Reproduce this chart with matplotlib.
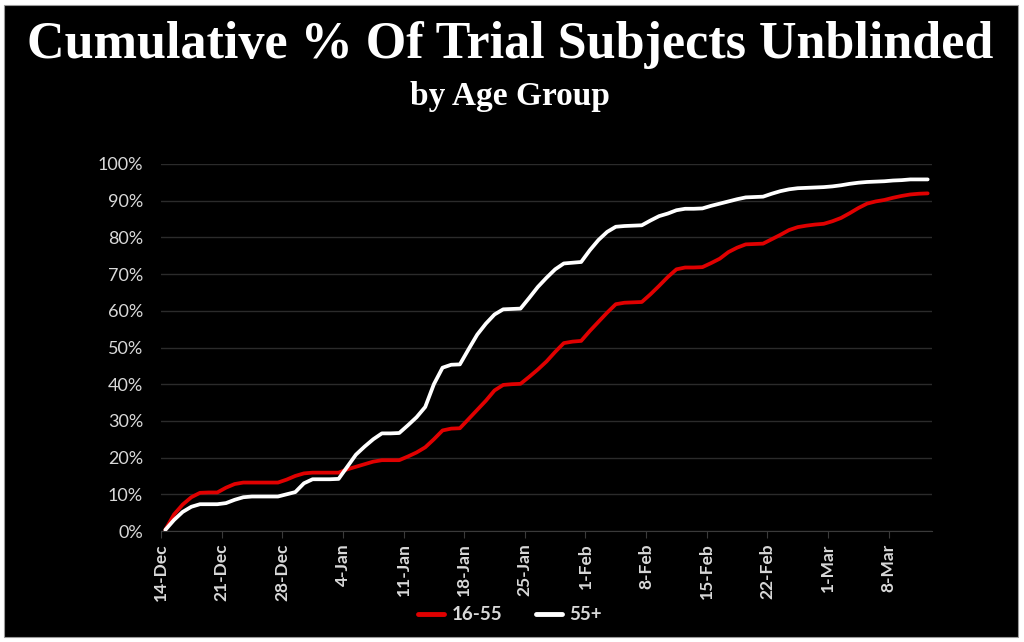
import matplotlib
matplotlib.use("Agg")
import matplotlib.pyplot as plt
import numpy as np
from matplotlib.patches import Rectangle
from matplotlib.ticker import PercentFormatter

# ---- data ----
tick_labels = ["14-Dec", "21-Dec", "28-Dec", "4-Jan", "11-Jan", "18-Jan", "25-Jan",
               "1-Feb", "8-Feb", "15-Feb", "22-Feb", "1-Mar", "8-Mar"]
series_names = ["16-55", "55+"]

# daily cumulative % from 14-Dec to 12-Mar (89 days)
age_16_55 = [0.3, 4.5, 7.2, 9.2, 10.4, 10.5, 10.5,
             11.8, 12.8, 13.2, 13.2, 13.2, 13.2, 13.2,
             14.0, 15.0, 15.7, 15.9, 15.9, 15.9, 15.9,
             16.8, 17.5, 18.2, 18.9, 19.3, 19.3, 19.3,
             20.3, 21.4, 22.8, 25.0, 27.4, 27.9, 28.0,
             30.5, 33.0, 35.5, 38.3, 39.8, 40.0, 40.1,
             42.0, 44.0, 46.2, 48.8, 51.2, 51.6, 51.8,
             54.5, 57.0, 59.5, 61.8, 62.2, 62.3, 62.4,
             64.5, 66.8, 69.2, 71.3, 71.8, 71.8, 71.9,
             73.0, 74.2, 76.0, 77.2, 78.1, 78.2, 78.3,
             79.5, 80.7, 82.0, 82.8, 83.2, 83.5, 83.7,
             84.4, 85.3, 86.6, 88.0, 89.2, 89.8, 90.2,
             90.8, 91.3, 91.7, 91.9, 92.0]

age_55_plus = [0.3, 3.0, 5.2, 6.6, 7.3, 7.3, 7.3,
               7.6, 8.5, 9.2, 9.4, 9.4, 9.4, 9.4,
               10.0, 10.6, 13.0, 14.1, 14.1, 14.1, 14.2,
               17.5, 20.8, 23.0, 25.0, 26.6, 26.6, 26.7,
               28.8, 31.0, 33.8, 40.0, 44.5, 45.3, 45.4,
               49.5, 53.5, 56.5, 59.0, 60.4, 60.5, 60.6,
               63.5, 66.5, 69.0, 71.3, 72.9, 73.1, 73.3,
               76.5, 79.3, 81.5, 82.9, 83.1, 83.2, 83.3,
               84.6, 85.8, 86.5, 87.4, 87.8, 87.8, 87.9,
               88.6, 89.2, 89.8, 90.4, 90.9, 91.0, 91.1,
               91.9, 92.6, 93.1, 93.4, 93.5, 93.6, 93.7,
               93.9, 94.2, 94.6, 94.9, 95.1, 95.2, 95.3,
               95.5, 95.6, 95.8, 95.8, 95.8]

y_ticks = [0, 10, 20, 30, 40, 50, 60, 70, 80, 90, 100]

# ---- figure ----
fig = plt.figure(figsize=(10.24, 6.42), dpi=100, facecolor="white")
fig.patches.append(Rectangle((4 / 1024, 1 - 637 / 642), (1018 - 4) / 1024, (637 - 5) / 642,
                             transform=fig.transFigure, facecolor="black",
                             edgecolor="#9a9a9a", linewidth=0.8, zorder=-10))

ax = fig.add_axes([161 / 1024, 1 - 531 / 642, (932 - 161) / 1024, (531 - 164) / 642])
ax.set_facecolor("black")
ax.set_zorder(1)

x = np.arange(len(age_16_55))
ax.plot(x, age_16_55, color="#e00000", lw=2.7, label=series_names[0], solid_capstyle="round", zorder=3)
ax.plot(x, age_55_plus, color="white", lw=2.7, label=series_names[1], solid_capstyle="round", zorder=3)

ax.set_xlim(-0.5, len(age_16_55) - 0.5)
ax.set_ylim(0, 100)
ax.set_yticks(y_ticks)
ax.yaxis.set_major_formatter(PercentFormatter(decimals=0))
ax.grid(axis="y", color="#2b2b2b", lw=1)
ax.set_axisbelow(True)

ax.set_xticks(np.arange(0, len(age_16_55), 7) - 0.5)
ax.set_xticklabels(tick_labels, rotation=90, fontsize=12.5, fontweight="bold",
                   color="#d9d9d9", family="Lato")
for lab in ax.get_yticklabels():
    lab.set_family("Lato")
ax.tick_params(axis="y", length=0, labelsize=13, labelcolor="#d9d9d9", pad=13)
ax.tick_params(axis="x", length=5, color="#3a3a3a", pad=4)

for s in ["top", "right", "left"]:
    ax.spines[s].set_visible(False)
ax.spines["bottom"].set_color("#3a3a3a")

leg = fig.legend(loc="center", bbox_to_anchor=(510 / 1024, 1 - 615 / 642), ncol=2,
                 frameon=False, prop={"family": "Lato", "size": 13.5, "weight": "bold"},
                 handlelength=1.4, columnspacing=1.8, handletextpad=0.4)
for t in leg.get_texts():
    t.set_color("#d9d9d9")
for h in leg.get_lines():
    h.set_linewidth(3.5)

fig.text(510 / 1024, 1 - 45 / 642, "Cumulative % Of Trial Subjects Unblinded",
         ha="center", va="center", color="white", fontsize=37.5, fontweight="bold",
         family="Liberation Serif")
fig.text(510 / 1024, 1 - 97 / 642, "by Age Group", ha="center", va="center",
         color="white", fontsize=24, fontweight="bold", family="Liberation Serif")

fig.savefig("out.png", dpi=100, facecolor="white")
